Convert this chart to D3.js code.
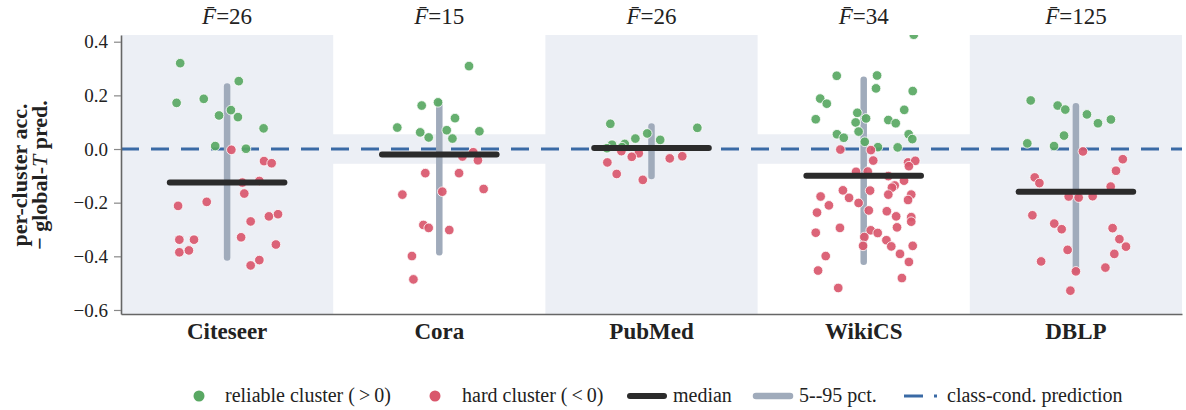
<!DOCTYPE html>
<html><head><meta charset="utf-8">
<script src="https://cdn.jsdelivr.net/npm/d3@7"></script>
<style>body{margin:0;background:#fff}text{font-family:"Liberation Serif","DejaVu Serif",serif}</style>
</head><body><svg id="c" width="1186" height="410"></svg>
<script>
const categories = ["Citeseer","Cora","PubMed","WikiCS","DBLP"];
const fbar = [26,15,26,34,125];
const medians = [-0.125,-0.020,0.004,-0.100,-0.159];
const p5 = [-0.404,-0.385,-0.101,-0.420,-0.453];
const p95 = [0.233,0.174,0.084,0.258,0.159];
const yTicks = [0.4,0.2,0.0,-0.2,-0.4,-0.6];
// per-cluster values and horizontal jitter (fraction of category band)
const citeseerVals = [0.32,0.172,0.187,0.253,0.125,0.145,0.119,0.077,0.011,0.001,-0.003,-0.045,-0.053,-0.125,-0.119,-0.166,-0.212,-0.197,-0.270,-0.251,-0.243,-0.338,-0.338,-0.329,-0.385,-0.378,-0.356,-0.434,-0.414];
const citeseerJit = [-0.221,-0.238,-0.110,0.055,-0.038,0.018,0.051,0.172,-0.056,0.089,0.020,0.174,0.210,0.072,0.152,0.081,-0.231,-0.096,0.111,0.197,0.240,-0.225,-0.156,0.066,-0.225,-0.180,0.230,0.111,0.152];
const coraVals = [0.309,0.162,0.174,0.115,0.080,0.062,0.043,0.070,0.039,0.066,-0.012,-0.028,-0.042,-0.090,-0.090,-0.170,-0.159,-0.149,-0.283,-0.294,-0.302,-0.399,-0.486];
const coraJit = [0.140,-0.083,-0.006,0.074,-0.198,-0.090,-0.050,0.035,0.062,0.189,0.160,0.109,0.182,-0.066,0.093,-0.174,0.014,0.209,-0.075,-0.050,0.047,-0.129,-0.122];
const pubmedVals = [0.094,0.079,0.058,0.039,0.034,0.019,0.016,0.007,0.003,-0.008,-0.016,-0.029,-0.035,-0.027,-0.050,-0.093,-0.115];
const pubmedJit = [-0.194,0.216,-0.020,-0.076,0.041,-0.126,-0.186,-0.139,-0.210,-0.142,-0.060,-0.093,0.086,0.145,-0.208,-0.164,-0.041];
const wikicsVals = [0.426,0.273,0.274,0.226,0.216,0.188,0.169,0.146,0.135,0.111,0.114,0.099,0.108,0.096,0.065,0.055,0.042,0.055,0.037,0.027,0.007,0.006,
 -0.002,-0.004,-0.043,-0.050,-0.044,-0.064,-0.085,-0.084,-0.101,-0.118,-0.136,-0.144,-0.154,-0.155,-0.170,-0.170,-0.177,-0.182,-0.190,-0.210,-0.201,-0.237,-0.229,-0.232,-0.251,-0.254,-0.271,-0.294,-0.292,-0.312,-0.303,-0.313,-0.328,-0.340,-0.363,-0.361,-0.361,-0.399,-0.391,-0.421,-0.453,-0.481,-0.518];
const wikicsJit = [0.236,-0.127,0.063,0.058,0.231,-0.205,-0.174,0.191,-0.030,-0.226,0.011,-0.038,0.116,0.151,-0.024,-0.126,-0.094,0.212,0.229,0.005,0.067,0.160,
 -0.110,0.034,0.045,0.209,0.243,0.213,-0.036,0.019,0.116,0.190,0.146,0.133,-0.098,0.030,0.116,0.224,-0.203,-0.069,0.209,-0.164,-0.024,-0.220,0.024,0.109,0.153,0.224,0.224,-0.112,0.157,-0.226,0.033,0.066,0.003,0.107,0.130,0.231,-0.003,-0.179,0.171,0.213,-0.215,0.180,-0.120];
const dblpVals = [0.181,0.162,0.147,0.129,0.096,0.110,0.050,0.021,0.011,-0.009,-0.038,-0.081,-0.106,-0.127,-0.140,-0.177,-0.181,-0.176,-0.247,-0.278,-0.299,-0.295,-0.336,-0.364,-0.376,-0.391,-0.419,-0.442,-0.456,-0.528];
const dblpJit = [-0.213,-0.086,-0.050,0.052,0.104,0.165,-0.056,-0.229,-0.103,0.033,0.221,0.189,-0.194,-0.172,0.164,-0.034,0.013,0.079,-0.205,-0.102,-0.067,0.173,0.205,0.236,-0.039,0.181,-0.164,0.139,0.000,-0.026];
const allVals = [citeseerVals,coraVals,pubmedVals,wikicsVals,dblpVals];
const allJit = [citeseerJit,coraJit,pubmedJit,wikicsJit,dblpJit];
const legendLabels = ["reliable cluster (\u2009>\u20090)","hard cluster (\u2009<\u20090)","median","5--95 pct.","class-cond. prediction"];

const GREEN="#59a863", RED="#d9576c", SHADE="#eceff5", BLUE="#3a6aa5", GRAY="#a0abbb", BLACK="#2b2b2b";
const svg = d3.select("#c");
const L=121, R=1182, T=35, B=314;
const x = d3.scaleBand().domain(categories).range([L,R]).padding(0);
const y = d3.scaleLinear().domain([-0.615,0.425]).range([B,T]);
const bw = x.bandwidth();

svg.append("defs").append("clipPath").attr("id","pc").append("rect")
  .attr("x",L).attr("y",T).attr("width",R-L).attr("height",B-T);

// background shading
const g = svg.append("g");
g.append("rect").attr("x",L).attr("width",R-L).attr("y",y(0.055)).attr("height",y(-0.055)-y(0.055)).attr("fill",SHADE);
g.selectAll("rect.col").data(categories.filter((d,i)=>i%2===0)).join("rect").attr("class","col")
  .attr("x",d=>x(d)).attr("width",bw).attr("y",T).attr("height",B-T).attr("fill",SHADE);

// dashed reference line
g.append("line").attr("x1",L).attr("x2",R).attr("y1",y(0)).attr("y2",y(0))
  .attr("stroke",BLUE).attr("stroke-width",3).attr("stroke-dasharray","18,12");

// percentile bars
g.selectAll("line.pct").data(categories).join("line").attr("class","pct")
  .attr("x1",d=>x(d)+bw/2).attr("x2",d=>x(d)+bw/2)
  .attr("y1",(d,i)=>y(p95[i])).attr("y2",(d,i)=>y(p5[i]))
  .attr("stroke",GRAY).attr("stroke-width",6.5).attr("stroke-linecap","round");

// points
const pts = [];
categories.forEach((c,i)=>allVals[i].forEach((v,j)=>pts.push({c,v,j:allJit[i][j]})));
g.append("g").attr("clip-path","url(#pc)").selectAll("circle").data(pts).join("circle")
  .attr("cx",d=>x(d.c)+bw/2+d.j*bw).attr("cy",d=>y(d.v)).attr("r",4.8)
  .attr("fill",d=>d.v>0?GREEN:RED).attr("fill-opacity",0.92)
  .attr("stroke","#fff").attr("stroke-width",0.8);

// medians
g.selectAll("line.med").data(categories).join("line").attr("class","med")
  .attr("x1",d=>x(d)+bw/2-bw*0.27).attr("x2",d=>x(d)+bw/2+bw*0.27)
  .attr("y1",(d,i)=>y(medians[i])).attr("y2",(d,i)=>y(medians[i]))
  .attr("stroke",BLACK).attr("stroke-width",6).attr("stroke-linecap","round");

// axes
const ya = svg.append("g").attr("transform",`translate(${L},0)`)
  .call(d3.axisLeft(y).tickValues(yTicks).tickFormat(d3.format(".1f")).tickSize(7).tickPadding(6).tickSizeOuter(0));
ya.select(".domain").attr("stroke","#666").attr("stroke-width",1.6);
ya.selectAll(".tick line").attr("stroke","#888").attr("stroke-width",1.2);
ya.selectAll(".tick text").attr("font-size",19).attr("fill","#222").attr("font-family","Liberation Serif");

const xa = svg.append("g").attr("transform",`translate(0,${B})`)
  .call(d3.axisBottom(x).tickSize(0).tickPadding(9).tickSizeOuter(0));
xa.select(".domain").attr("stroke","#666").attr("stroke-width",1.6);
xa.selectAll(".tick text").attr("font-size",23).attr("font-weight","bold").attr("fill","#222").attr("font-family","Liberation Serif");

// top labels
const tl = svg.selectAll("text.fb").data(categories).join("text").attr("class","fb")
  .attr("x",d=>x(d)+bw/2).attr("y",24).attr("text-anchor","middle").attr("font-size",23).attr("fill","#222");
tl.append("tspan").attr("font-style","italic").text("F\u0304");
tl.append("tspan").text((d,i)=>"="+fbar[i]);

// y label
const yl = svg.append("text").attr("transform","translate(27,175) rotate(-90)").attr("text-anchor","middle")
  .attr("font-size",22).attr("font-weight","bold").attr("fill","#222");
yl.append("tspan").attr("x",0).attr("dy",0).text("per-cluster acc.");
const l2 = yl.append("tspan").attr("x",0).attr("dy",20);
l2.text("\u2212 global-");
yl.append("tspan").attr("font-style","italic").attr("font-weight","normal").text("T");
yl.append("tspan").text(" pred.");

// legend
const lg = svg.append("g").attr("font-size",20).attr("fill","#222");
const ly = 396;
lg.append("circle").attr("cx",199).attr("cy",ly).attr("r",5.5).attr("fill",GREEN);
lg.append("text").attr("x",225).attr("y",ly+6).text(legendLabels[0]);
lg.append("circle").attr("cx",435).attr("cy",ly).attr("r",5.5).attr("fill",RED);
lg.append("text").attr("x",462).attr("y",ly+6).text(legendLabels[1]);
lg.append("line").attr("x1",630).attr("x2",664).attr("y1",ly).attr("y2",ly).attr("stroke",BLACK).attr("stroke-width",6).attr("stroke-linecap","round");
lg.append("text").attr("x",673).attr("y",ly+6).text(legendLabels[2]);
lg.append("line").attr("x1",756).attr("x2",790).attr("y1",ly).attr("y2",ly).attr("stroke",GRAY).attr("stroke-width",6.5).attr("stroke-linecap","round");
lg.append("text").attr("x",799).attr("y",ly+6).text(legendLabels[3]);
lg.append("line").attr("x1",904).attr("x2",923).attr("y1",ly).attr("y2",ly).attr("stroke",BLUE).attr("stroke-width",3);
lg.append("line").attr("x1",934).attr("x2",937).attr("y1",ly).attr("y2",ly).attr("stroke",BLUE).attr("stroke-width",3);
lg.append("text").attr("x",947).attr("y",ly+6).text(legendLabels[4]);
</script></body></html>
